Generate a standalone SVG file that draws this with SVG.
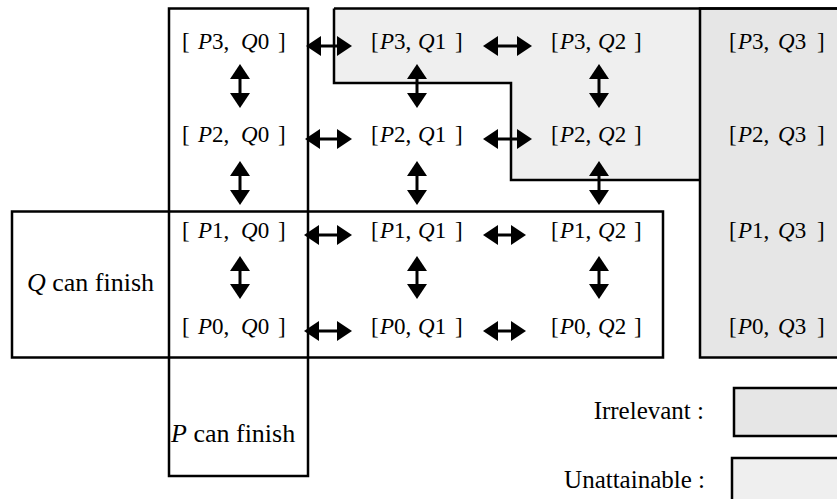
<svg xmlns="http://www.w3.org/2000/svg" width="837" height="499" viewBox="0 0 837 499">
<style>
.lbl{font-family:"Liberation Serif","Times New Roman",serif;font-size:23px;fill:#000}
.big{font-family:"Liberation Serif","Times New Roman",serif;font-size:26px;fill:#000}
.leg{font-family:"Liberation Serif","Times New Roman",serif;font-size:25px;fill:#000}
.i{font-style:italic}
.box{fill:none;stroke:#000;stroke-width:2.5}
.edge{fill:none;stroke:#000;stroke-width:2.5}
.arr{stroke:#000;stroke-width:3;fill:none;marker-start:url(#ah);marker-end:url(#ah)}
</style>
<defs>
<marker id="ah" markerUnits="userSpaceOnUse" markerWidth="15" markerHeight="20" refX="9" refY="10" orient="auto-start-reverse" viewBox="0 0 15 20">
<path d="M0,0 L15,10 L0,20 z" fill="#000"/>
</marker>
</defs>
<rect width="837" height="499" fill="#fff"/>
<g id="unattainable-region">
<path d="M334,8.5 L700,8.5 L700,180 L511,180 L511,83 L334,83 Z" fill="#efefef"/>
<path class="edge" d="M334,8.5 L334,83 L511,83 L511,180 L700,180"/>
</g>
<g id="irrelevant-region">
<rect x="700" y="8.5" width="160" height="349" fill="#e6e6e6" stroke="#000" stroke-width="2.5"/>
<line class="edge" x1="334" y1="8.5" x2="837" y2="8.5"/>
</g>
<g id="p-can-finish">
<rect class="box" x="169" y="8.5" width="139" height="467.5"/>
<text class="big" x="171" y="442"><tspan class="i">P</tspan>  can finish</text>
</g>
<g id="q-can-finish">
<rect class="box" x="12" y="211.5" width="651" height="146"/>
<text class="big" x="27" y="291"><tspan class="i">Q</tspan> can finish</text>
</g>
<g id="connectors">
<line class="arr" x1="312" y1="46" x2="346" y2="46"/>
<line class="arr" x1="489" y1="46" x2="526" y2="46"/>
<line class="arr" x1="311" y1="139" x2="346" y2="139"/>
<line class="arr" x1="489" y1="139" x2="526" y2="139"/>
<line class="arr" x1="310" y1="235" x2="346" y2="235"/>
<line class="arr" x1="489" y1="235" x2="520" y2="235"/>
<line class="arr" x1="310" y1="331" x2="346" y2="331"/>
<line class="arr" x1="489" y1="331" x2="520" y2="331"/>
<line class="arr" x1="240" y1="70" x2="240" y2="102"/>
<line class="arr" x1="417" y1="70" x2="417" y2="102"/>
<line class="arr" x1="599" y1="70" x2="599" y2="102"/>
<line class="arr" x1="240" y1="167" x2="240" y2="199"/>
<line class="arr" x1="417" y1="167" x2="417" y2="199"/>
<line class="arr" x1="599" y1="167" x2="599" y2="199"/>
<line class="arr" x1="240" y1="262" x2="240" y2="293"/>
<line class="arr" x1="417" y1="262" x2="417" y2="293"/>
<line class="arr" x1="599" y1="262" x2="599" y2="293"/>
</g>
<g id="n-p3-q0"><text class="lbl" y="49"><tspan x="182">[</tspan><tspan x="198" class="i">P</tspan>3,<tspan x="241" class="i">Q</tspan>0<tspan x="278">]</tspan></text></g>
<g id="n-p3-q1"><text class="lbl" y="49"><tspan x="371">[</tspan><tspan x="380" class="i">P</tspan>3,<tspan x="418" class="i">Q</tspan>1<tspan x="455">]</tspan></text></g>
<g id="n-p3-q2"><text class="lbl" y="49"><tspan x="551">[</tspan><tspan x="560" class="i">P</tspan>3,<tspan x="598" class="i">Q</tspan>2<tspan x="634">]</tspan></text></g>
<g id="n-p3-q3"><text class="lbl" y="49"><tspan x="729">[</tspan><tspan x="738" class="i">P</tspan>3,<tspan x="778" class="i">Q</tspan>3<tspan x="817">]</tspan></text></g>
<g id="n-p2-q0"><text class="lbl" y="142"><tspan x="182">[</tspan><tspan x="198" class="i">P</tspan>2,<tspan x="241" class="i">Q</tspan>0<tspan x="278">]</tspan></text></g>
<g id="n-p2-q1"><text class="lbl" y="142"><tspan x="371">[</tspan><tspan x="380" class="i">P</tspan>2,<tspan x="418" class="i">Q</tspan>1<tspan x="455">]</tspan></text></g>
<g id="n-p2-q2"><text class="lbl" y="142"><tspan x="551">[</tspan><tspan x="560" class="i">P</tspan>2,<tspan x="598" class="i">Q</tspan>2<tspan x="634">]</tspan></text></g>
<g id="n-p2-q3"><text class="lbl" y="142"><tspan x="729">[</tspan><tspan x="738" class="i">P</tspan>2,<tspan x="778" class="i">Q</tspan>3<tspan x="817">]</tspan></text></g>
<g id="n-p1-q0"><text class="lbl" y="238"><tspan x="182">[</tspan><tspan x="198" class="i">P</tspan>1,<tspan x="241" class="i">Q</tspan>0<tspan x="278">]</tspan></text></g>
<g id="n-p1-q1"><text class="lbl" y="238"><tspan x="371">[</tspan><tspan x="380" class="i">P</tspan>1,<tspan x="418" class="i">Q</tspan>1<tspan x="455">]</tspan></text></g>
<g id="n-p1-q2"><text class="lbl" y="238"><tspan x="551">[</tspan><tspan x="560" class="i">P</tspan>1,<tspan x="598" class="i">Q</tspan>2<tspan x="634">]</tspan></text></g>
<g id="n-p1-q3"><text class="lbl" y="238"><tspan x="729">[</tspan><tspan x="738" class="i">P</tspan>1,<tspan x="778" class="i">Q</tspan>3<tspan x="817">]</tspan></text></g>
<g id="n-p0-q0"><text class="lbl" y="334"><tspan x="182">[</tspan><tspan x="198" class="i">P</tspan>0,<tspan x="241" class="i">Q</tspan>0<tspan x="278">]</tspan></text></g>
<g id="n-p0-q1"><text class="lbl" y="334"><tspan x="371">[</tspan><tspan x="380" class="i">P</tspan>0,<tspan x="418" class="i">Q</tspan>1<tspan x="455">]</tspan></text></g>
<g id="n-p0-q2"><text class="lbl" y="334"><tspan x="551">[</tspan><tspan x="560" class="i">P</tspan>0,<tspan x="598" class="i">Q</tspan>2<tspan x="634">]</tspan></text></g>
<g id="n-p0-q3"><text class="lbl" y="334"><tspan x="729">[</tspan><tspan x="738" class="i">P</tspan>0,<tspan x="778" class="i">Q</tspan>3<tspan x="817">]</tspan></text></g>
<g id="legend">
<text class="leg" x="704" y="419" text-anchor="end">Irrelevant :</text>
<rect x="734" y="388" width="120" height="48" fill="#e6e6e6" stroke="#000" stroke-width="2.5"/>
<text class="leg" x="705" y="488" text-anchor="end">Unattainable :</text>
<rect x="732" y="458" width="120" height="60" fill="#efefef" stroke="#000" stroke-width="2.5"/>
</g>
</svg>
